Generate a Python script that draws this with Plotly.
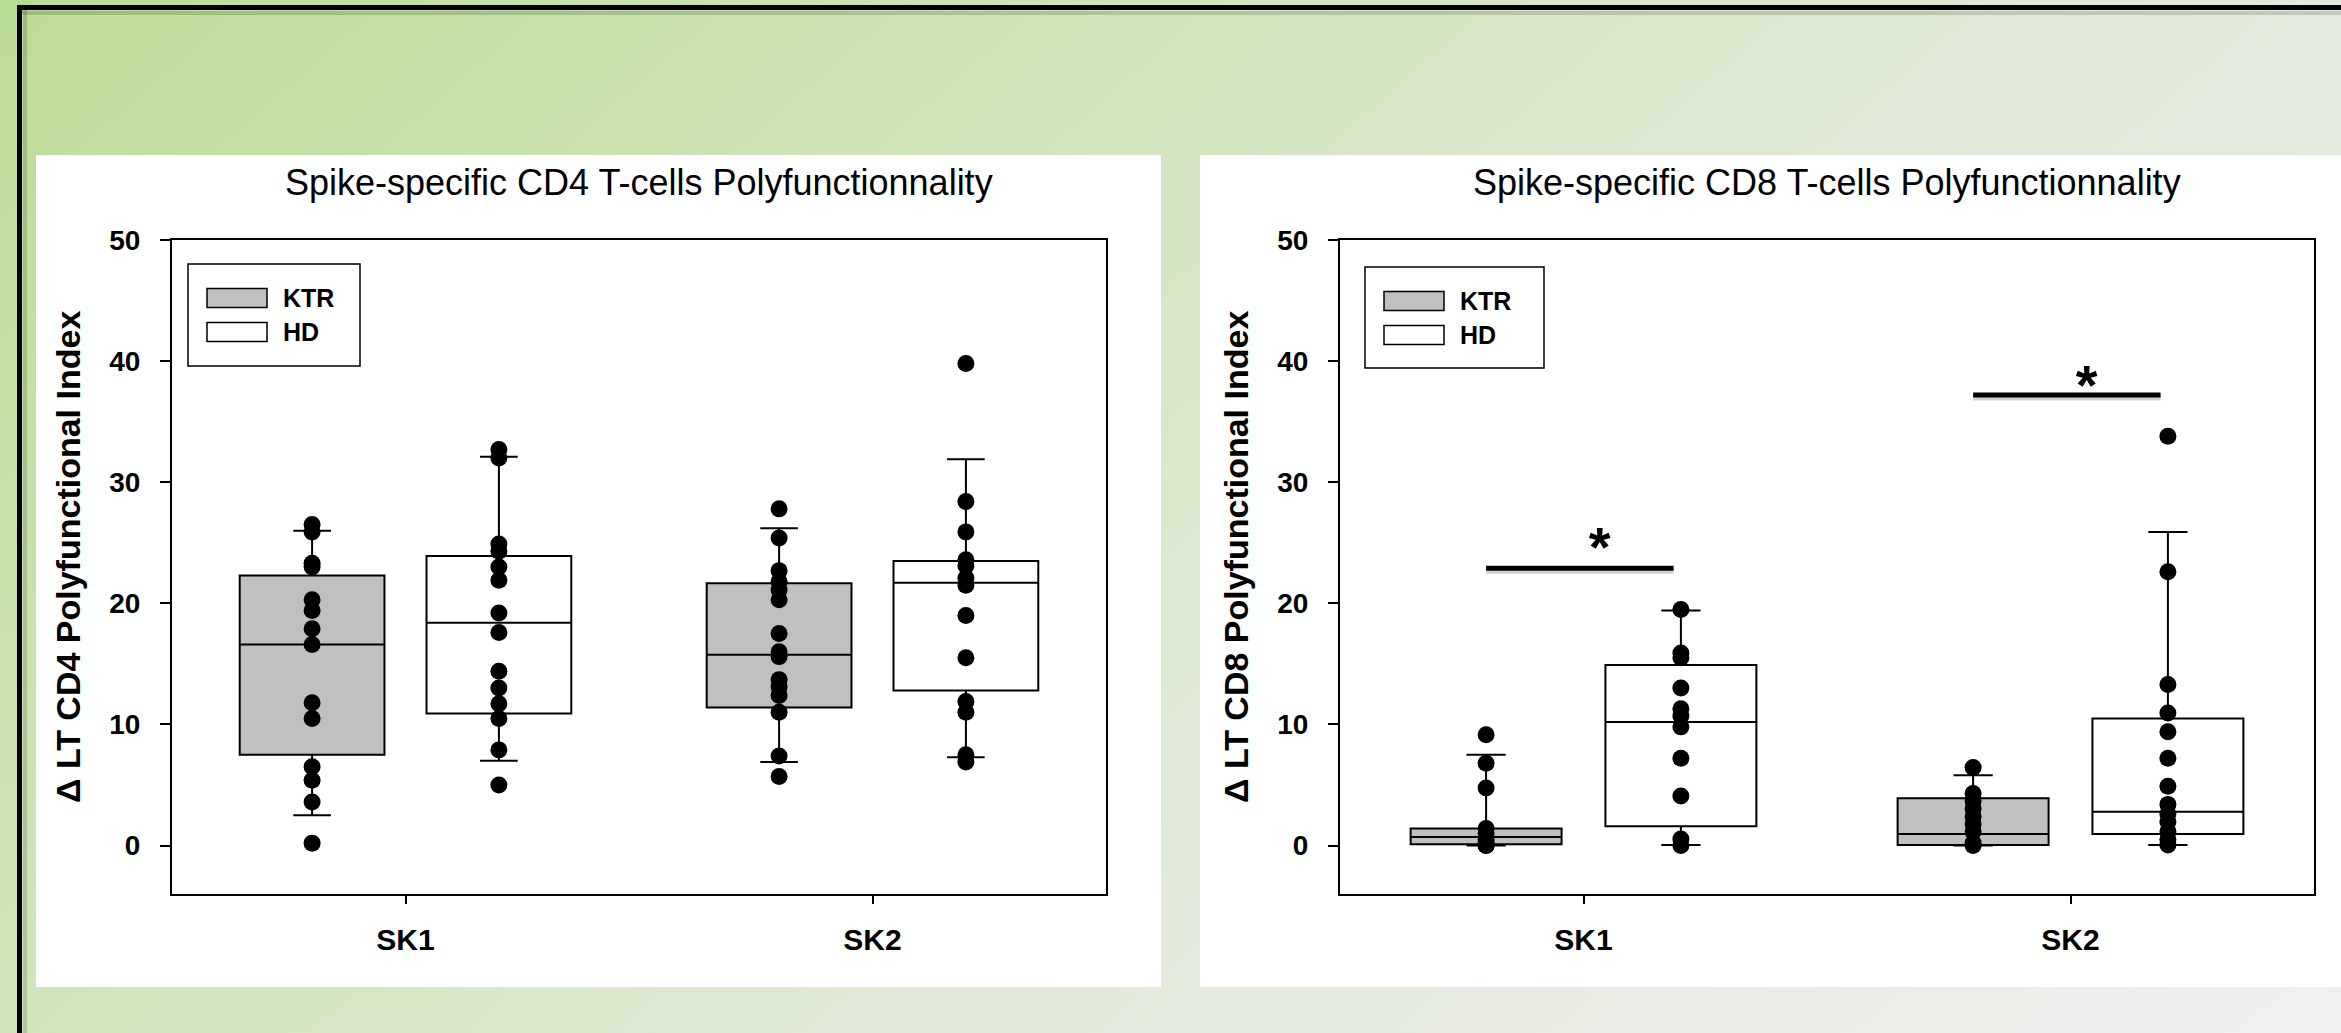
import base64
import plotly.graph_objects as go

W, H = 2341, 1033

categories = ["SK1", "SK2"]
groups = ["KTR", "HD"]
group_fill = {"KTR": "#c0c0c0", "HD": "#ffffff"}

# ---- CD4 panel ----
cd4_ktr_pts = [
    [26.5, 25.9, 23.3, 23.0, 20.3, 19.4, 17.9, 16.6, 11.8, 10.5, 6.5, 5.4, 3.6, 0.2],
    [27.8, 25.4, 22.7, 21.8, 21.1, 20.3, 17.5, 16.0, 15.6, 13.7, 13.1, 12.4, 11.0, 7.4, 5.7],
]
cd4_hd_pts = [
    [32.7, 32.0, 24.9, 24.3, 23.0, 21.9, 19.2, 17.6, 14.4, 13.0, 11.7, 10.5, 7.9, 5.0],
    [39.8, 28.4, 25.9, 23.6, 23.1, 22.1, 21.5, 19.0, 15.5, 11.9, 11.0, 7.5, 6.9],
]
cd4_ktr_q1 = [7.5, 11.4]
cd4_ktr_med = [16.6, 15.75]
cd4_ktr_q3 = [22.3, 21.65]
cd4_ktr_lo = [2.5, 6.9]
cd4_ktr_hi = [26.0, 26.2]
cd4_hd_q1 = [10.9, 12.8]
cd4_hd_med = [18.4, 21.7]
cd4_hd_q3 = [23.9, 23.5]
cd4_hd_lo = [7.0, 7.3]
cd4_hd_hi = [32.1, 31.9]

# ---- CD8 panel ----
cd8_ktr_pts = [
    [9.15, 6.8, 4.75, 1.4, 1.0, 0.5, 0.2, 0.1, 0.0, 0.0],
    [6.45, 4.3, 3.7, 3.05, 2.4, 1.8, 1.15, 0.2, 0.0],
]
cd8_hd_pts = [
    [19.5, 15.9, 15.5, 13.0, 11.3, 10.7, 9.8, 7.2, 4.1, 0.55, 0.0],
    [33.8, 22.6, 13.3, 10.95, 9.4, 7.2, 4.9, 3.4, 2.6, 1.95, 1.15, 0.5, 0.05],
]
cd8_ktr_q1 = [0.1, 0.05]
cd8_ktr_med = [0.7, 0.95]
cd8_ktr_q3 = [1.4, 3.9]
cd8_ktr_lo = [0.0, 0.0]
cd8_ktr_hi = [7.5, 5.8]
cd8_hd_q1 = [1.6, 0.95]
cd8_hd_med = [10.2, 2.8]
cd8_hd_q3 = [14.9, 10.5]
cd8_hd_lo = [0.05, 0.05]
cd8_hd_hi = [19.4, 25.9]

# significance bars (CD8 only)
cd8_sig_y = [22.9, 37.2]
cd8_star_y = [24.2, 37.6]

FONT = "Liberation Sans, Arial, sans-serif"


def fx(px):
    return px / W


def fy(py):
    return 1 - py / H


offset = {"KTR": -0.2, "HD": 0.2}
box_w = 0.31
pos = list(range(len(categories)))

panels = [
    dict(xa="x", ya="y",
         title="Spike-specific CD4 T-cells Polyfunctionnality",
         ytitle="\u0394 LT CD4 Polyfunctional Index",
         stats={"KTR": (cd4_ktr_q1, cd4_ktr_med, cd4_ktr_q3, cd4_ktr_lo, cd4_ktr_hi, cd4_ktr_pts),
                "HD": (cd4_hd_q1, cd4_hd_med, cd4_hd_q3, cd4_hd_lo, cd4_hd_hi, cd4_hd_pts)},
         sig=None, dom=(172, 1106), panel=(36, 1161), legend=(188, 360, 264, 366)),
    dict(xa="x2", ya="y2",
         title="Spike-specific CD8 T-cells Polyfunctionnality",
         ytitle="\u0394 LT CD8 Polyfunctional Index",
         stats={"KTR": (cd8_ktr_q1, cd8_ktr_med, cd8_ktr_q3, cd8_ktr_lo, cd8_ktr_hi, cd8_ktr_pts),
                "HD": (cd8_hd_q1, cd8_hd_med, cd8_hd_q3, cd8_hd_lo, cd8_hd_hi, cd8_hd_pts)},
         sig=(cd8_sig_y, cd8_star_y), dom=(1340, 2314), panel=(1200, 2341), legend=(1365, 1544, 267, 368)),
]

fig = go.Figure()
shapes = []
annotations = []

# outer frame
shapes.append(dict(type="line", xref="paper", yref="paper", x0=fx(17), x1=1, y0=fy(13), y1=fy(13),
                   line=dict(color="rgba(0,0,0,0.15)", width=4), layer="below"))
shapes.append(dict(type="line", xref="paper", yref="paper", x0=fx(25), x1=fx(25), y0=fy(8), y1=0,
                   line=dict(color="rgba(0,0,0,0.15)", width=4), layer="below"))
shapes.append(dict(type="line", xref="paper", yref="paper", x0=fx(17), x1=1, y0=fy(7.5), y1=fy(7.5),
                   line=dict(color="black", width=5), layer="below"))
shapes.append(dict(type="line", xref="paper", yref="paper", x0=fx(19.5), x1=fx(19.5), y0=fy(5), y1=0,
                   line=dict(color="black", width=5), layer="below"))

for p in panels:
    xa, ya = p["xa"], p["ya"]
    for g in groups:
        q1, med, q3, lo, hi, pts = p["stats"][g]
        fig.add_trace(go.Box(
            x=[c + offset[g] for c in pos], q1=q1, median=med, q3=q3,
            lowerfence=lo, upperfence=hi, orientation="v",
            width=box_w, whiskerwidth=0.26, boxpoints=False,
            fillcolor=group_fill[g], line=dict(color="black", width=2),
            name=g, showlegend=False, xaxis=xa, yaxis=ya, hoverinfo="skip"))
    for g in groups:
        pts = p["stats"][g][5]
        xs, ys = [], []
        for c, vals in zip(pos, pts):
            xs += [c + offset[g]] * len(vals)
            ys += vals
        fig.add_trace(go.Scatter(
            x=xs, y=ys, mode="markers", marker=dict(color="black", size=17),
            showlegend=False, xaxis=xa, yaxis=ya, hoverinfo="skip"))
    if p["sig"]:
        sig_y, star_y = p["sig"]
        lx, ly = [], []
        for c, v in zip(pos, sig_y):
            lx += [c - 0.2, c + 0.185, None]
            ly += [v, v, None]
        fig.add_trace(go.Scatter(x=lx, y=[None if v is None else v - 0.2 for v in ly], mode="lines",
                                 line=dict(color="rgba(0,0,0,0.18)", width=6),
                                 showlegend=False, xaxis=xa, yaxis=ya, hoverinfo="skip"))
        fig.add_trace(go.Scatter(x=lx, y=ly, mode="lines", line=dict(color="black", width=5),
                                 showlegend=False, xaxis=xa, yaxis=ya, hoverinfo="skip"))
        fig.add_trace(go.Scatter(x=[c + 0.033 for c in pos], y=star_y, mode="text", text=["*"] * len(pos),
                                 textposition="middle center",
                                 textfont=dict(family=FONT, size=56, color="black", weight="bold"),
                                 showlegend=False, xaxis=xa, yaxis=ya, hoverinfo="skip"))

    # white panel
    shapes.append(dict(type="rect", xref="paper", yref="paper", x0=fx(p["panel"][0]), x1=fx(p["panel"][1]),
                       y0=fy(987), y1=fy(155), fillcolor="white", line=dict(width=0), layer="below"))
    # legend
    lx0, lx1, ly0, ly1 = p["legend"]
    shapes.append(dict(type="rect", xref="paper", yref="paper", x0=fx(lx0), x1=fx(lx1),
                       y0=fy(ly1), y1=fy(ly0), fillcolor="white", line=dict(color="black", width=1.5)))
    sw0 = lx0 + 19
    for i, g in enumerate(groups):
        yc = ly0 + 34 + i * 34
        shapes.append(dict(type="rect", xref="paper", yref="paper", x0=fx(sw0), x1=fx(sw0 + 60),
                           y0=fy(yc + 9.5), y1=fy(yc - 9.5), fillcolor=group_fill[g],
                           line=dict(color="black", width=1.5)))
        annotations.append(dict(text=g, xref="paper", yref="paper", x=fx(sw0 + 74), y=fy(yc),
                                xanchor="left", yanchor="middle", showarrow=False,
                                font=dict(family=FONT, size=25, color="black", weight="bold")))
    d0, d1 = p["dom"]
    annotations.append(dict(text=p["title"], xref="paper", yref="paper", x=fx((d0 + d1) / 2), y=fy(182.5),
                            xanchor="center", yanchor="middle", showarrow=False,
                            font=dict(family=FONT, size=36, color="black")))
    annotations.append(dict(text=p["ytitle"], xref="paper", yref="paper", x=fx(d0 - 104), y=fy(557),
                            xanchor="center", yanchor="middle", showarrow=False, textangle=-90,
                            font=dict(family=FONT, size=34, color="black", weight="bold")))

axis_common = dict(showline=True, linecolor="black", linewidth=2, mirror=True, showgrid=False,
                   zeroline=False, ticks="outside", tickcolor="black", tickwidth=1.5)

for i, p in enumerate(panels):
    sfx = "" if i == 0 else str(i + 1)
    d0, d1 = p["dom"]
    fig.update_layout(**{
        "xaxis" + sfx: dict(axis_common, domain=[fx(d0), fx(d1)], range=[-0.5, 1.5],
                            tickvals=pos, ticktext=categories, ticklen=8, anchor="y" + sfx,
                            ticklabelstandoff=10,
                            tickfont=dict(family=FONT, size=30, color="black", weight="bold")),
        "yaxis" + sfx: dict(axis_common, domain=[fy(894), fy(240)], range=[-4, 50],
                            tickvals=[0, 10, 20, 30, 40, 50], ticklen=10, anchor="x" + sfx,
                            ticklabelstandoff=14,
                            tickfont=dict(family=FONT, size=28, color="black", weight="bold")),
    })

svg = (
    f'<svg xmlns="http://www.w3.org/2000/svg" width="{W}" height="{H}" viewBox="0 0 {W} {H}" '
    f'preserveAspectRatio="none"><defs><linearGradient id="g" gradientUnits="userSpaceOnUse" '
    f'x1="0" y1="0" x2="2000" y2="2300">'
    f'<stop offset="0" stop-color="#bbdc95"/><stop offset="0.26" stop-color="#d1e5bd"/>'
    f'<stop offset="0.5" stop-color="#e4eadd"/><stop offset="0.76" stop-color="#f0f0f0"/>'
    f'</linearGradient></defs><rect width="{W}" height="{H}" fill="url(#g)"/></svg>'
)
bg_src = "data:image/svg+xml;base64," + base64.b64encode(svg.encode()).decode()

fig.update_layout(
    width=W, height=H, template="none",
    margin=dict(l=0, r=0, t=0, b=0, pad=0),
    paper_bgcolor="#d8e8c8", plot_bgcolor="white",
    showlegend=False,
    font=dict(family=FONT, color="black"),
    shapes=shapes, annotations=annotations,
    images=[dict(source=bg_src, xref="paper", yref="paper", x=0, y=1, sizex=1, sizey=1,
                 xanchor="left", yanchor="top", sizing="stretch", layer="below")],
)

fig.write_html("out.html", config={"displayModeBar": False},
               post_script="document.body.style.margin='0';document.body.style.overflow='hidden';")
